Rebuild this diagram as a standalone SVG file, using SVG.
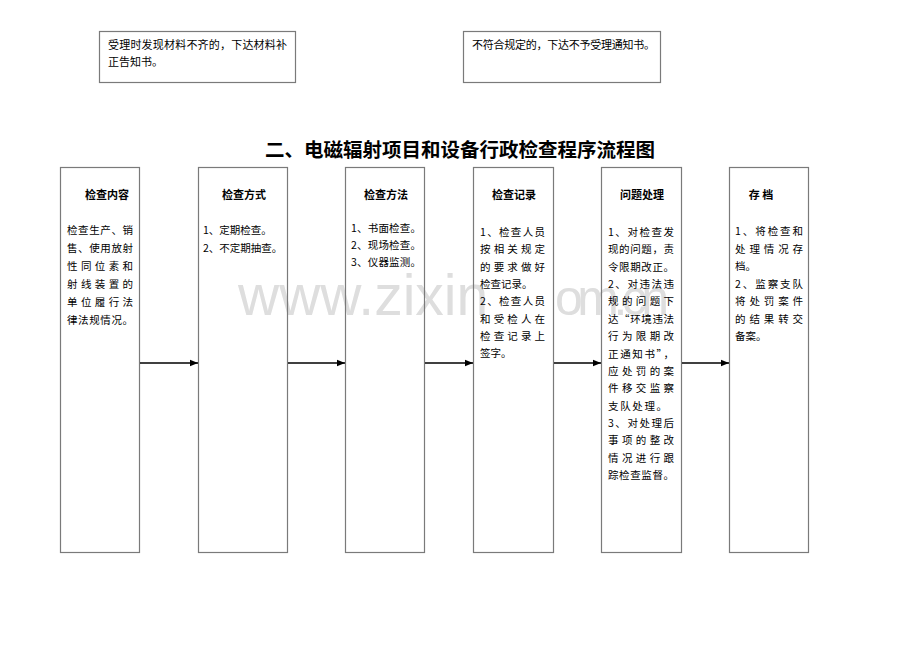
<svg xmlns="http://www.w3.org/2000/svg" width="920" height="651" viewBox="0 0 920 651">
<style>
text{font-family:"Noto Sans CJK SC","Noto Sans CJK TC",sans-serif;fill:#000}
.box{fill:none;stroke:#7a7a7a;stroke-width:1.2}
.b{font-size:10.5px}
.h{font-size:11px;font-weight:bold;text-anchor:middle}
.t{font-size:11px}
.title{font-size:19.5px;font-weight:bold}
.wm{font-family:"Liberation Sans",Arial,sans-serif;font-size:57px;fill:#dedede}
.conn line{stroke:#000;stroke-width:1.3}
</style>
<defs>
<marker id="ah" viewBox="0 0 10 10" refX="10" refY="5" markerWidth="8" markerHeight="8" markerUnits="userSpaceOnUse" orient="auto">
<path d="M0,1 L10,5 L0,9 z" fill="#000"/>
</marker>
</defs>
<rect width="920" height="651" fill="#fff"/>
<g id="watermark">
<text class="wm" x="238" y="315">www.zixin</text>
<text class="wm" x="555" y="315" style="font-size:50px" textLength="114" lengthAdjust="spacing">om.cn</text>
</g>

<g id="note1">
<rect class="box" x="99.5" y="31.5" width="196" height="51"/>
<text class="t" x="108" y="49" textLength="179" lengthAdjust="spacing">受理时发现材料不齐的，下达材料补</text>
<text class="t" x="108" y="66">正告知书。</text>
</g>
<g id="note2">
<rect class="box" x="463.5" y="31.5" width="197" height="51"/>
<text class="t" x="472" y="49" textLength="183" lengthAdjust="spacing">不符合规定的，下达不予受理通知书。</text>
</g>

<text id="title" class="title" x="265" y="157" textLength="390" lengthAdjust="spacing">二、电磁辐射项目和设备行政检查程序流程图</text>

<g id="n1">
<rect class="box" x="60.5" y="167.5" width="79" height="385"/>
<text class="h" x="107" y="199">检查内容</text>
<text class="b" x="67" y="234" textLength="66" lengthAdjust="spacing">检查生产、销</text>
<text class="b" x="67" y="252" textLength="66" lengthAdjust="spacing">售、使用放射</text>
<text class="b" x="67" y="270" textLength="66" lengthAdjust="spacing">性同位素和</text>
<text class="b" x="67" y="288" textLength="66" lengthAdjust="spacing">射线装置的</text>
<text class="b" x="67" y="306" textLength="66" lengthAdjust="spacing">单位履行法</text>
<text class="b" x="67" y="324" textLength="66" lengthAdjust="spacing">律法规情况。</text>
</g>

<g id="n2">
<rect class="box" x="198.5" y="167.5" width="89" height="385"/>
<text class="h" x="244" y="199">检查方式</text>
<text class="b" x="203" y="234">1、定期检查。</text>
<text class="b" x="203" y="252">2、不定期抽查。</text>
</g>

<g id="n3">
<rect class="box" x="345.5" y="167.5" width="79" height="385"/>
<text class="h" x="386" y="199">检查方法</text>
<text class="b" x="351" y="232" textLength="70" lengthAdjust="spacing">1、书面检查。</text>
<text class="b" x="351" y="249" textLength="70" lengthAdjust="spacing">2、现场检查。</text>
<text class="b" x="351" y="266" textLength="70" lengthAdjust="spacing">3、仪器监测。</text>
</g>

<g id="n4">
<rect class="box" x="473.5" y="167.5" width="80" height="385"/>
<text class="h" x="514" y="199">检查记录</text>
<text class="b" x="480" y="236" textLength="65" lengthAdjust="spacing">1、检查人员</text>
<text class="b" x="480" y="253.3" textLength="65" lengthAdjust="spacing">按相关规定</text>
<text class="b" x="480" y="270.6" textLength="65" lengthAdjust="spacing">的要求做好</text>
<text class="b" x="480" y="287.9">检查记录。</text>
<text class="b" x="480" y="305.2" textLength="65" lengthAdjust="spacing">2、检查人员</text>
<text class="b" x="480" y="322.5" textLength="65" lengthAdjust="spacing">和受检人在</text>
<text class="b" x="480" y="339.8" textLength="65" lengthAdjust="spacing">检查记录上</text>
<text class="b" x="480" y="357.1">签字。</text>
</g>

<g id="n5">
<rect class="box" x="601.5" y="167.5" width="80" height="385"/>
<text class="h" x="642" y="199">问题处理</text>
<text class="b" x="608" y="236" textLength="66" lengthAdjust="spacing">1、对检查发</text>
<text class="b" x="608" y="253.4" textLength="66" lengthAdjust="spacing">现的问题，责</text>
<text class="b" x="608" y="270.7" textLength="66" lengthAdjust="spacing">令限期改正。</text>
<text class="b" x="608" y="288.1" textLength="66" lengthAdjust="spacing">2、对违法违</text>
<text class="b" x="608" y="305.4" textLength="66" lengthAdjust="spacing">规的问题下</text>
<text class="b" x="608" y="322.8" textLength="66" lengthAdjust="spacing">达“环境违法</text>
<text class="b" x="608" y="340.2" textLength="66" lengthAdjust="spacing">行为限期改</text>
<text class="b" x="608" y="357.5" textLength="66" lengthAdjust="spacing">正通知书”，</text>
<text class="b" x="608" y="374.9" textLength="66" lengthAdjust="spacing">应处罚的案</text>
<text class="b" x="608" y="392.2" textLength="66" lengthAdjust="spacing">件移交监察</text>
<text class="b" x="608" y="409.6" textLength="59" lengthAdjust="spacing">支队处理。</text>
<text class="b" x="608" y="427" textLength="66" lengthAdjust="spacing">3、对处理后</text>
<text class="b" x="608" y="444.3" textLength="66" lengthAdjust="spacing">事项的整改</text>
<text class="b" x="608" y="461.7" textLength="66" lengthAdjust="spacing">情况进行跟</text>
<text class="b" x="608" y="479" textLength="66" lengthAdjust="spacing">踪检查监督。</text>
</g>

<g id="n6">
<rect class="box" x="729.5" y="167.5" width="79" height="385"/>
<text class="h" x="761" y="199">存 档</text>
<text class="b" x="735" y="235" textLength="68" lengthAdjust="spacing">1、将检查和</text>
<text class="b" x="735" y="252.5" textLength="68" lengthAdjust="spacing">处理情况存</text>
<text class="b" x="735" y="270">档。</text>
<text class="b" x="735" y="287.5" textLength="68" lengthAdjust="spacing">2、监察支队</text>
<text class="b" x="735" y="305" textLength="68" lengthAdjust="spacing">将处罚案件</text>
<text class="b" x="735" y="322.5" textLength="68" lengthAdjust="spacing">的结果转交</text>
<text class="b" x="735" y="340">备案。</text>
</g>

<g id="connectors" class="conn">
<line x1="140" y1="363" x2="198" y2="363" marker-end="url(#ah)"/>
<line x1="288" y1="363" x2="345" y2="363" marker-end="url(#ah)"/>
<line x1="425" y1="363" x2="473" y2="363" marker-end="url(#ah)"/>
<line x1="554" y1="363" x2="601" y2="363" marker-end="url(#ah)"/>
<line x1="682" y1="363" x2="729" y2="363" marker-end="url(#ah)"/>
</g>
</svg>
